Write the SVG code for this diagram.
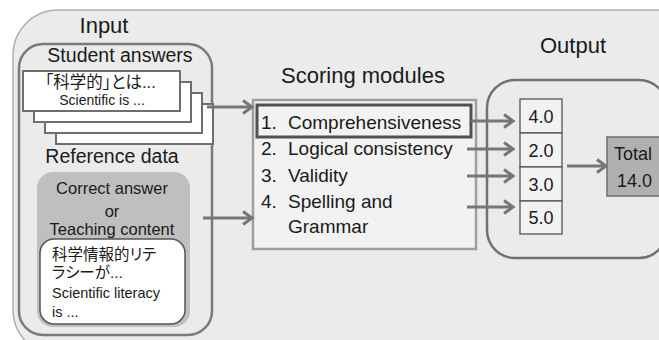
<svg xmlns="http://www.w3.org/2000/svg" width="659" height="340" viewBox="0 0 659 340">
<style>
text{font-family:"Liberation Sans","Noto Sans CJK JP",sans-serif;fill:#1a1a1a}
.jp{font-feature-settings:"palt"}
.card{fill:#fff;stroke:#6e6e6e;stroke-width:2}
.score{fill:#f2f2f2;stroke:#555;stroke-width:1.3}
.arr{fill:none;stroke:#767676;stroke-width:3;marker-end:url(#ah)}
</style>
<defs>
<marker id="ah" markerUnits="userSpaceOnUse" markerWidth="14" markerHeight="16" refX="11" refY="8" orient="auto">
<path d="M2,1.5 L11,8 L2,14.5" fill="none" stroke="#767676" stroke-width="3"/>
</marker>
</defs>
<rect x="0" y="0" width="659" height="340" fill="#fff"/>
<rect x="13" y="10" width="700" height="345" rx="45" fill="#ebebeb" stroke="#b0b0b0" stroke-width="1.5"/>

<g id="input">
<text x="104" y="33" font-size="22" text-anchor="middle">Input</text>
<rect x="19" y="44" width="193" height="291" rx="24" fill="none" stroke="#7a7a7a" stroke-width="2.5"/>
<text x="120" y="62" font-size="19.5" text-anchor="middle">Student answers</text>
</g>

<g id="student-answers">
<rect class="card" x="56" y="104" width="157" height="40"/>
<rect class="card" x="45" y="93" width="157" height="40"/>
<rect class="card" x="34" y="82" width="157" height="40"/>
<rect class="card" x="23" y="71" width="157" height="40"/>
<text class="jp" x="45" y="87.5" font-size="16.5">「科学的」とは...</text>
<text x="102" y="104.5" font-size="14" text-anchor="middle">Scientific is ...</text>
</g>

<g id="reference-data">
<text x="112" y="163" font-size="19.5" text-anchor="middle">Reference data</text>
<rect x="37" y="172" width="153" height="155" rx="16" fill="#bfbfbf"/>
<text x="112" y="194" font-size="16.5" text-anchor="middle">Correct answer<tspan x="112" y="217">or</tspan><tspan x="112" y="235">Teaching content</tspan></text>
<rect x="40" y="239" width="145" height="85" rx="14" fill="#fff" stroke="#555" stroke-width="1.5"/>
<text class="jp" x="52" y="259.5" font-size="15.5">科学情報的リテ</text>
<text class="jp" x="52" y="277.5" font-size="15.5">ラシーが...</text>
<text x="52" y="298" font-size="14.5">Scientific literacy<tspan x="52" y="317">is ...</tspan></text>
</g>

<g id="scoring-modules">
<text x="363" y="83" font-size="22" text-anchor="middle">Scoring modules</text>
<rect x="253" y="100" width="223" height="149" fill="#f2f2f2" stroke="#9e9e9e" stroke-width="2.5"/>
<rect x="257" y="105" width="214" height="32" fill="none" stroke="#505050" stroke-width="3"/>
<g font-size="19">
<text x="261" y="129">1.</text><text x="288" y="129">Comprehensiveness</text>
<text x="261" y="155">2.</text><text x="288" y="155">Logical consistency</text>
<text x="261" y="182">3.</text><text x="288" y="182">Validity</text>
<text x="261" y="208">4.</text><text x="288" y="208">Spelling and<tspan x="288" y="233">Grammar</tspan></text>
</g>
</g>

<g id="output">
<text x="573" y="53" font-size="22" text-anchor="middle">Output</text>
<rect x="487" y="80" width="180" height="178" rx="28" fill="#ebebeb" stroke="#707070" stroke-width="2.5"/>
</g>

<g id="scores" font-size="18">
<rect class="score" x="520" y="99" width="42" height="34"/>
<rect class="score" x="520" y="133" width="42" height="34"/>
<rect class="score" x="520" y="167" width="42" height="34"/>
<rect class="score" x="520" y="201" width="42" height="33"/>
<text x="541" y="123" text-anchor="middle">4.0</text>
<text x="541" y="157" text-anchor="middle">2.0</text>
<text x="541" y="191" text-anchor="middle">3.0</text>
<text x="541" y="224" text-anchor="middle">5.0</text>
</g>

<g id="total">
<rect x="607" y="137" width="60" height="59" fill="#b0b0b0" stroke="#6e6e6e" stroke-width="1.5"/>
<text x="614" y="160" font-size="18">Total<tspan x="617" y="187">14.0</tspan></text>
</g>

<g id="connectors">
<path class="arr" d="M207,107 H252"/>
<path class="arr" d="M203,218 H252"/>
<path class="arr" d="M471,121 H513"/>
<path class="arr" d="M467,149 H513"/>
<path class="arr" d="M467,176 H513"/>
<path class="arr" d="M467,207 H513"/>
<path class="arr" d="M567,166 H606"/>
</g>
</svg>
